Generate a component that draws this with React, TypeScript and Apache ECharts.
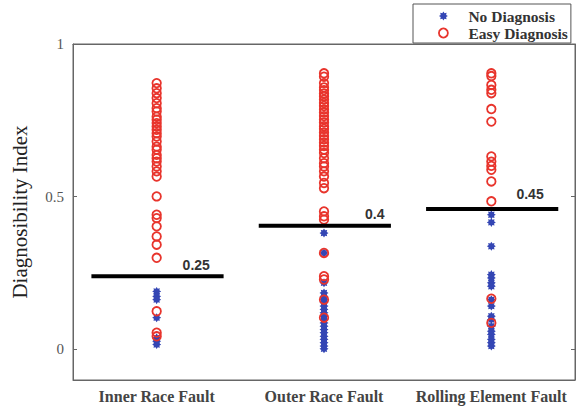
import React, { useEffect, useRef } from "react";
import * as echarts from "echarts";

const categories = ["Inner Race Fault", "Outer Race Fault", "Rolling Element Fault"];
const yTicks = [0, 0.5, 1];

// No Diagnosis (blue stars)
const noDiagInner = [0.19, 0.174, 0.163, 0.104, 0.038, 0.027, 0.016];
const noDiagOuter = [0.381, 0.316, 0.218, 0.185, 0.174, 0.163, 0.153, 0.142, 0.131, 0.12, 0.109, 0.098, 0.087, 0.076, 0.065, 0.055, 0.043, 0.033, 0.022, 0.011, 0.002];
const noDiagRolling = [0.441, 0.416, 0.338, 0.245, 0.234, 0.218, 0.207, 0.163, 0.142, 0.109, 0.098, 0.076, 0.06, 0.049, 0.033, 0.022, 0.011];

// Easy Diagnosis (red circles)
const easyInner = [0.872, 0.855, 0.839, 0.823, 0.806, 0.79, 0.779, 0.762, 0.752, 0.741, 0.73, 0.719, 0.708, 0.697, 0.681, 0.664, 0.654, 0.637, 0.626, 0.615, 0.599, 0.583, 0.566, 0.501, 0.441, 0.43, 0.403, 0.37, 0.343, 0.3, 0.125, 0.055, 0.043];
const easyOuter = [0.904, 0.893, 0.872, 0.858, 0.849, 0.838, 0.829, 0.818, 0.807, 0.797, 0.786, 0.776, 0.764, 0.753, 0.743, 0.731, 0.722, 0.71, 0.699, 0.688, 0.677, 0.666, 0.654, 0.643, 0.626, 0.61, 0.599, 0.583, 0.566, 0.545, 0.528, 0.452, 0.436, 0.425, 0.316, 0.24, 0.229, 0.163, 0.104];
const easyRolling = [0.904, 0.895, 0.866, 0.85, 0.839, 0.787, 0.746, 0.632, 0.615, 0.601, 0.588, 0.55, 0.485, 0.166, 0.087];

// Thresholds (black bars) and their labels
const thresholdValues = [0.24, 0.405, 0.46];
const thresholdLabels = ["0.25", "0.4", "0.45"];

// label placement style (fraction of band width, px above line)
const labelOffsets: [number, number][] = [[0.155, -4], [0.245, -5], [0.15, -8]];

const noDiag = [noDiagInner, noDiagOuter, noDiagRolling];
const easy = [easyInner, easyOuter, easyRolling];

function toPoints(groups: number[][]) {
  const out: [number, number][] = [];
  groups.forEach((g, i) => g.forEach((v) => out.push([i, v])));
  return out;
}

function starPath() {
  const pts: string[] = [];
  const n = 8;
  for (let k = 0; k < n * 2; k++) {
    const r = k % 2 === 0 ? 10 : 6.5;
    const a = (Math.PI * k) / n - Math.PI / 2;
    pts.push(`${(10 + r * Math.cos(a)).toFixed(2)} ${(10 + r * Math.sin(a)).toFixed(2)}`);
  }
  return "path://M" + pts.join(" L") + " Z";
}

const BLUE = "#3446b4";
const RED = "#e8342c";
const SERIF = '"Liberation Serif", "Times New Roman", serif';

export default function App() {
  const ref = useRef<HTMLDivElement>(null);
  useEffect(() => {
    if (!ref.current) return;
    const chart = echarts.init(ref.current, undefined, { renderer: "svg" });
    const star = starPath();
    chart.setOption({
      animation: false,
      backgroundColor: "#fff",
      grid: { left: 73, right: 3, top: 44, bottom: 26, show: true, borderColor: "#666", borderWidth: 1 },
      legend: {
        orient: "vertical",
        left: 413,
        top: 4,
        backgroundColor: "#fff",
        borderColor: "#555",
        borderWidth: 1,
        borderRadius: 0,
        padding: [4, 3, 2, 25],
        itemGap: 1,
        itemWidth: 40,
        itemHeight: 9,
        textStyle: { fontFamily: SERIF, fontSize: 15.5, fontWeight: "bold", color: "#333" },
        data: [
          { name: "No Diagnosis", icon: star, itemStyle: { color: BLUE } },
          { name: "Easy Diagnosis", icon: "circle", itemStyle: { color: "#fff", borderColor: RED, borderWidth: 1.8 } },
        ],
      },
      xAxis: [
        {
          type: "category",
          data: categories,
          boundaryGap: true,
          axisLine: { onZero: false, lineStyle: { color: "#666" } },
          axisTick: { inside: true, length: 4, alignWithLabel: true, lineStyle: { color: "#666" } },
          axisLabel: { interval: 0, hideOverlap: false, fontFamily: SERIF, fontSize: 16, fontWeight: "bold", color: "#444", margin: 8 },
        },
        {
          type: "category",
          data: categories,
          position: "top",
          boundaryGap: true,
          axisLine: { onZero: false, lineStyle: { color: "#666" } },
          axisTick: { inside: true, length: 4, alignWithLabel: true, lineStyle: { color: "#666" } },
          axisLabel: { show: false },
        },
      ],
      yAxis: [
        {
          type: "value",
          min: -0.1,
          max: 1,
          name: "Diagnosibility Index",
          nameLocation: "middle",
          nameGap: 43,
          nameTextStyle: { fontFamily: SERIF, fontSize: 21, color: "#222" },
          splitLine: { show: false },
          axisLine: { show: true, onZero: false, lineStyle: { color: "#666" } },
          axisTick: { show: true, inside: true, length: 4, customValues: yTicks, lineStyle: { color: "#666" } },
          axisLabel: {
            fontFamily: SERIF,
            fontSize: 15,
            color: "#555",
            margin: 9,
            customValues: yTicks,
            formatter: (v: number) => String(v),
          },
        },
        {
          type: "value",
          min: -0.1,
          max: 1,
          position: "right",
          splitLine: { show: false },
          axisLine: { show: true, onZero: false, lineStyle: { color: "#666" } },
          axisTick: { show: true, inside: true, length: 4, customValues: yTicks, lineStyle: { color: "#666" } },
          axisLabel: { show: false },
        },
      ],
      series: [
        {
          name: "No Diagnosis",
          type: "scatter",
          symbol: star,
          symbolSize: 9,
          itemStyle: { color: BLUE, opacity: 1 },
          data: toPoints(noDiag),
          z: 2,
        },
        {
          name: "Easy Diagnosis",
          type: "scatter",
          symbol: "circle",
          symbolSize: 8.5,
          itemStyle: { color: "rgba(0,0,0,0)", borderColor: RED, borderWidth: 1.8, opacity: 1 },
          data: toPoints(easy),
          z: 3,
        },
        {
          type: "custom",
          name: "threshold",
          data: thresholdValues.map((v, i) => [i, v]),
          z: 4,
          renderItem: (params: any, api: any) => {
            const idx = api.value(0);
            const v = api.value(1);
            const c = api.coord([idx, v]);
            const bw = api.size([1, 0])[0];
            const off = labelOffsets[idx];
            return {
              type: "group",
              children: [
                {
                  type: "line",
                  shape: { x1: c[0] - 0.39 * bw, y1: c[1], x2: c[0] + 0.4 * bw, y2: c[1] },
                  style: { stroke: "#000", lineWidth: 4 },
                },
                {
                  type: "text",
                  x: c[0] + off[0] * bw,
                  y: c[1] + off[1],
                  style: {
                    text: thresholdLabels[idx],
                    fill: "#333",
                    font: 'bold 14px "Liberation Sans", Arial, sans-serif',
                    textAlign: "left",
                    textVerticalAlign: "bottom",
                    verticalAlign: "bottom",
                  },
                },
              ],
            };
          },
        },
      ],
    });
    return () => chart.dispose();
  }, []);
  return <div ref={ref} style={{ width: 578, height: 406, position: "absolute", left: 0, top: 0 }} />;
}
